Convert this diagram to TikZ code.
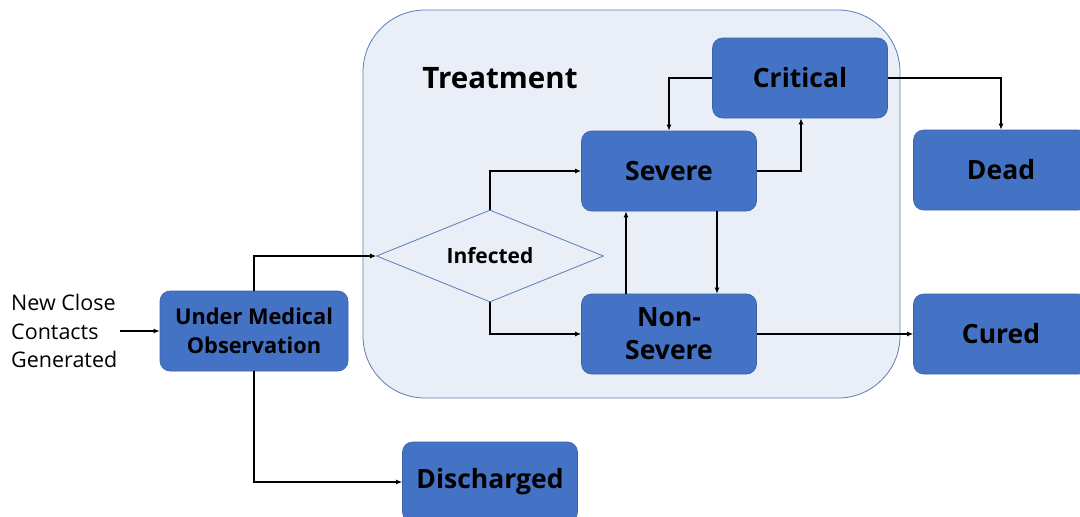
\documentclass[tikz,border=0pt]{standalone}
\usepackage{fontspec}
\setmainfont{Open Sans}
\usetikzlibrary{shapes.geometric,arrows.meta}
\definecolor{boxblue}{HTML}{4472C4}
\definecolor{boxedge}{HTML}{3A62A8}
\definecolor{areafill}{HTML}{E9EEF7}
\definecolor{areaedge}{HTML}{5A7DB9}
\begin{document}
\begin{tikzpicture}[x=1pt,y=-1pt,
  state/.style={draw=boxedge,fill=boxblue,rounded corners=10pt,line width=0.6pt,
    minimum width=175pt,minimum height=80pt,align=center,
    font=\fontsize{26.5}{33}\selectfont\bfseries},
  decide/.style={diamond,draw=areaedge,fill=areafill,line width=0.8pt,aspect=2.47,
    minimum width=227pt,minimum height=92pt,inner sep=0pt,
    font=\fontsize{21}{24}\selectfont\bfseries},
  flow/.style={-{Latex[length=6pt,width=5pt]},line width=1.2pt}]
  \useasboundingbox (0,0) rectangle (1080,517);
  % treatment area
  \draw[fill=areafill,draw=areaedge,line width=0.8pt,rounded corners=62pt]
    (363,10) rectangle (900,398);
  \node[font=\fontsize{29.5}{34}\selectfont\bfseries] (treat) at (500,78) {Treatment};
  % states
  \node[state,minimum width=188pt,font=\fontsize{21.8}{29}\selectfont\bfseries]
    (observe) at (254,331) {Under Medical\\Observation};
  \node[decide] (infected) at (490,256) {Infected};
  \node[state] (severe) at (669,171) {Severe};
  \node[state] (nonsevere) at (669,334) {Non-\\Severe};
  \node[state] (critical) at (800,78) {Critical};
  \node[state] (dead) at (1001,170) {Dead};
  \node[state] (cured) at (1001,334) {Cured};
  \node[state] (discharged) at (490,482) {Discharged};
  \node[align=left,anchor=west,inner sep=0pt,font=\fontsize{21.5}{28.5}\selectfont]
    (contacts) at (11,331) {New Close\\Contacts\\Generated};
  % connectors
  \draw[flow] ([xshift=2pt]contacts.east |- observe.west) -- (observe.west);
  \draw[flow] (observe.north) |- (infected.west);
  \draw[flow] (observe.south) |- (discharged.west);
  \draw[flow] (infected.north) |- (severe.west);
  \draw[flow] (infected.south) |- (nonsevere.west);
  \draw[flow] ([xshift=-43pt]nonsevere.north) -- ([xshift=-43pt]severe.south);
  \draw[flow] ([xshift=48pt]severe.south) -- ([xshift=48pt]nonsevere.north);
  \draw[flow] (severe.east) -| ([xshift=1pt]critical.south);
  \draw[flow] (critical.west) -| (severe.north);
  \draw[flow] (critical.east) -| (dead.north);
  \draw[flow] (nonsevere.east) -- (cured.west);
\end{tikzpicture}
\end{document}
